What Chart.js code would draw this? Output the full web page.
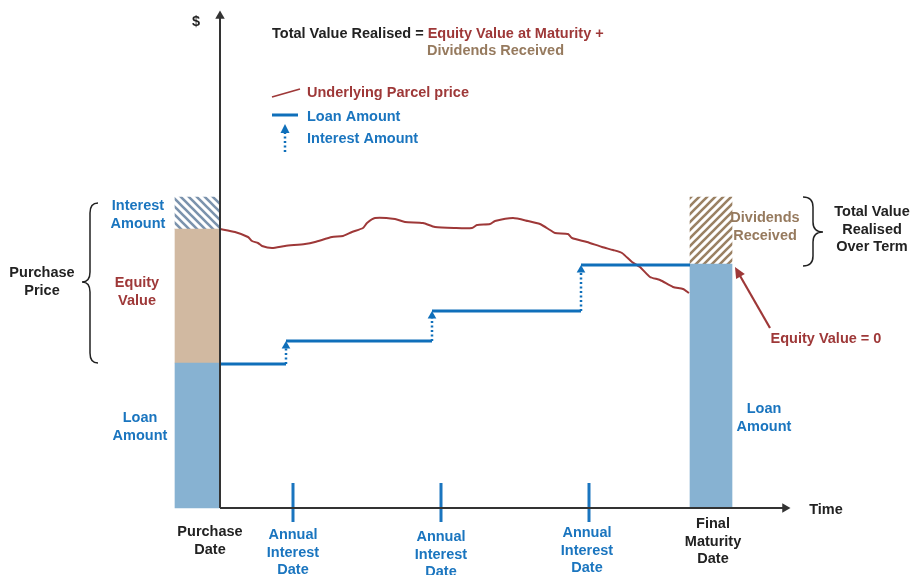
<!DOCTYPE html>
<html>
<head>
<meta charset="utf-8">
<script src="https://cdn.jsdelivr.net/npm/chart.js@4.4.1/dist/chart.umd.min.js"></script>
<style>
  body { margin: 0; background: #fff; }
  #wrap { width: 912px; height: 575px; }
</style>
</head>
<body>
<div id="wrap"><canvas id="diagram"></canvas></div>
<script>
// x = time from purchase date, y = dollar value (schematic units)
var barX = [-22.5, 491];            // purchase date bar, final maturity bar
var purchaseLoan = [0, 145];
var purchaseEquity = [145, 279];
var purchaseInterest = [279, 311];
var maturityLoan = [0, 244];
var maturityDividends = [244, 311];

var loanStepX = [0, 66, 212, 361, 470];
var loanStepY = [144, 167, 197, 243];
var interestDates = [73, 221, 369];

var priceX = [0, 15, 28, 32, 38, 42, 52, 65, 85, 95, 112, 123, 132, 143, 147, 155, 175, 185, 203, 215,
  235, 252, 257, 270, 275, 293, 308, 320, 330, 335, 348, 352, 367, 382, 393, 402, 412, 420, 430, 440, 453, 463, 469];
var priceY = [279, 276, 271, 267, 265, 262, 260, 262, 264, 266, 271, 272, 276, 280, 285, 290, 289, 286, 285, 281,
  280, 280, 283, 284, 287, 290, 287, 284, 278, 275, 274, 270, 266, 261, 258, 255, 246, 241, 231, 228, 221, 219, 215];

var RED = '#9e3838', BLUE = '#1a75bf', LINEBLUE = '#0f6fba', BROWN = '#967a5e', INK = '#222222';

function hatch(color, forward) {
  var c = document.createElement('canvas');
  c.width = 8; c.height = 8;
  var g = c.getContext('2d');
  g.strokeStyle = color;
  g.lineWidth = 2.6;
  g.beginPath();
  if (forward) {
    g.moveTo(0, 8); g.lineTo(8, 0);
    g.moveTo(-2, 2); g.lineTo(2, -2);
    g.moveTo(6, 10); g.lineTo(10, 6);
  } else {
    g.moveTo(0, 0); g.lineTo(8, 8);
    g.moveTo(-2, 6); g.lineTo(2, 10);
    g.moveTo(6, -2); g.lineTo(10, 2);
  }
  g.stroke();
  return g.createPattern(c, 'repeat');
}

function bar(x, range, color, width) {
  return { type: 'bar', data: [{ x: x, y: range }], backgroundColor: color, barThickness: width,
    grouped: false, borderWidth: 0, order: 10 };
}

// loan amount: flat pieces between interest dates
var loanLine = [];
for (var i = 0; i < loanStepY.length; i++) {
  loanLine.push({ x: loanStepX[i], y: loanStepY[i] });
  loanLine.push({ x: loanStepX[i + 1], y: loanStepY[i] });
  loanLine.push({ x: loanStepX[i + 1], y: null });
}

var datasets = [
  // axes
  { type: 'line', data: [{ x: 0, y: 0 }, { x: 0, y: 492 }], borderColor: '#333', borderWidth: 2,
    pointRadius: [0, 5.5], pointStyle: 'triangle', pointBackgroundColor: '#333', pointBorderWidth: 0, order: 0 },
  { type: 'line', data: [{ x: 0, y: 0 }, { x: 565, y: 0 }], borderColor: '#333', borderWidth: 2,
    pointRadius: [0, 5.5], pointStyle: 'triangle', pointRotation: 90, pointBackgroundColor: '#333', pointBorderWidth: 0, order: 0 },
  { type: 'line', data: loanLine, borderColor: LINEBLUE, borderWidth: 3, pointRadius: 0, spanGaps: false, order: 1 },
  { type: 'line', data: priceX.map(function (x, k) { return { x: x, y: priceY[k] }; }),
    borderColor: RED, borderWidth: 2, pointRadius: 0, tension: 0.2, order: 2 },
  bar(barX[0], purchaseLoan, '#87b2d2', 45),
  bar(barX[0], purchaseEquity, '#d1b9a1', 45),
  bar(barX[0], purchaseInterest, hatch('#7b93ad', false), 45),
  bar(barX[1], maturityLoan, '#87b2d2', 42),
  bar(barX[1], maturityDividends, hatch('#9a8163', true), 42)
];

for (var j = 1; j < loanStepX.length - 1; j++) {
  datasets.push({ type: 'line', data: [{ x: loanStepX[j], y: loanStepY[j - 1] }, { x: loanStepX[j], y: loanStepY[j] - 5 }],
    borderColor: LINEBLUE, borderWidth: 2.5, borderDash: [2, 2.5], pointRadius: [0, 5], pointStyle: 'triangle',
    pointBackgroundColor: LINEBLUE, pointBorderWidth: 0, order: 3 });
}
interestDates.forEach(function (d) {
  datasets.push({ type: 'line', data: [{ x: d, y: -14 }, { x: d, y: 25 }], borderColor: BLUE, borderWidth: 3,
    pointRadius: 0, order: 0 });
});

var notes = [
  { t: ['$'], x: -24, y: 486, c: INK },
  { t: ['Time'], x: 606, y: -2, c: INK },
  { t: ['Interest', 'Amount'], x: -82, y: 302, c: BLUE },
  { t: ['Equity', 'Value'], x: -83, y: 225, c: RED },
  { t: ['Loan', 'Amount'], x: -80, y: 90, c: BLUE },
  { t: ['Purchase', 'Price'], x: -178, y: 235, c: INK },
  { t: ['Dividends', 'Received'], x: 545, y: 290, c: BROWN },
  { t: ['Total Value', 'Realised', 'Over Term'], x: 652, y: 296, c: INK },
  { t: ['Equity Value = 0'], x: 606, y: 169, c: RED },
  { t: ['Loan', 'Amount'], x: 544, y: 99, c: BLUE },
  { t: ['Purchase', 'Date'], x: -10, y: -24, c: INK },
  { t: ['Annual', 'Interest', 'Date'], x: 73, y: -27, c: BLUE },
  { t: ['Annual', 'Interest', 'Date'], x: 221, y: -29, c: BLUE },
  { t: ['Annual', 'Interest', 'Date'], x: 367, y: -25, c: BLUE },
  { t: ['Final', 'Maturity', 'Date'], x: 493, y: -16, c: INK },
  { t: ['Underlying Parcel price'], x: 87, y: 415, c: RED, left: true },
  { t: ['Loan Amount'], x: 87, y: 391, c: BLUE, left: true },
  { t: ['Interest Amount'], x: 87, y: 369, c: BLUE, left: true },
  { t: ['Dividends Received'], x: 207, y: 457, c: BROWN, left: true }
];

function brace(ctx, x0, xTip, yTop, yBot, yMid) {
  var xm = (x0 + xTip) / 2, r = 10 * Math.sign(yBot - yTop);
  ctx.beginPath();
  ctx.moveTo(x0, yTop);
  ctx.quadraticCurveTo(xm, yTop, xm, yTop + r);
  ctx.lineTo(xm, yMid - r);
  ctx.quadraticCurveTo(xm, yMid, xTip, yMid);
  ctx.quadraticCurveTo(xm, yMid, xm, yMid + r);
  ctx.lineTo(xm, yBot - r);
  ctx.quadraticCurveTo(xm, yBot, x0, yBot);
  ctx.stroke();
}

var annotate = {
  id: 'annotate',
  afterDatasetsDraw: function (chart) {
    var ctx = chart.ctx, sx = chart.scales.x, sy = chart.scales.y;
    var X = function (v) { return sx.getPixelForValue(v); };
    var Y = function (v) { return sy.getPixelForValue(v); };
    ctx.save();
    ctx.font = 'bold 14.5px "Liberation Sans", Arial, sans-serif';
    ctx.textBaseline = 'middle';
    notes.forEach(function (n) {
      ctx.fillStyle = n.c;
      ctx.textAlign = n.left ? 'left' : 'center';
      n.t.forEach(function (line, k) { ctx.fillText(line, X(n.x), Y(n.y) + k * 17.5); });
    });
    // headline
    ctx.textAlign = 'left';
    var part = 'Total Value Realised = ';
    ctx.fillStyle = INK;
    ctx.fillText(part, X(52), Y(474));
    ctx.fillStyle = RED;
    ctx.fillText('Equity Value at Maturity +', X(52) + ctx.measureText(part).width, Y(474));

    // legend samples
    ctx.lineCap = 'butt';
    ctx.strokeStyle = RED; ctx.lineWidth = 1.6;
    ctx.beginPath(); ctx.moveTo(X(52), Y(411)); ctx.lineTo(X(80), Y(419)); ctx.stroke();
    ctx.strokeStyle = LINEBLUE; ctx.lineWidth = 3;
    ctx.beginPath(); ctx.moveTo(X(52), Y(393)); ctx.lineTo(X(78), Y(393)); ctx.stroke();
    ctx.lineWidth = 2.5; ctx.setLineDash([2, 2.5]);
    ctx.beginPath(); ctx.moveTo(X(65), Y(356)); ctx.lineTo(X(65), Y(378)); ctx.stroke();
    ctx.setLineDash([]);
    ctx.fillStyle = LINEBLUE;
    ctx.beginPath(); ctx.moveTo(X(65), Y(384)); ctx.lineTo(X(60.5), Y(375)); ctx.lineTo(X(69.5), Y(375)); ctx.fill();

    // braces
    ctx.strokeStyle = INK; ctx.lineWidth = 1.5;
    brace(ctx, X(-122), X(-138), Y(305), Y(145), Y(226));
    brace(ctx, X(583), X(603), Y(311), Y(242), Y(276));

    // arrow to maturity bar corner
    var ax = X(550), ay = Y(180), bx = X(515), by = Y(241);
    var ang = Math.atan2(by - ay, bx - ax);
    ctx.strokeStyle = RED; ctx.fillStyle = RED; ctx.lineWidth = 2.2;
    ctx.beginPath(); ctx.moveTo(ax, ay); ctx.lineTo(bx - 8 * Math.cos(ang), by - 8 * Math.sin(ang)); ctx.stroke();
    ctx.beginPath();
    ctx.moveTo(bx, by);
    ctx.lineTo(bx - 11 * Math.cos(ang) + 5 * Math.sin(ang), by - 11 * Math.sin(ang) - 5 * Math.cos(ang));
    ctx.lineTo(bx - 11 * Math.cos(ang) - 5 * Math.sin(ang), by - 11 * Math.sin(ang) + 5 * Math.cos(ang));
    ctx.fill();
    ctx.restore();
  }
};

new Chart(document.getElementById('diagram'), {
  type: 'bar',
  data: { datasets: datasets },
  options: {
    responsive: true,
    maintainAspectRatio: false,
    animation: false,
    layout: { padding: 0, autoPadding: false },
    plugins: { legend: { display: false }, tooltip: { enabled: false } },
    scales: {
      x: { type: 'linear', min: -220, max: 692, offset: false, display: false },
      y: { type: 'linear', min: -67, max: 508, display: false }
    }
  },
  plugins: [annotate]
});
</script>
</body>
</html>
